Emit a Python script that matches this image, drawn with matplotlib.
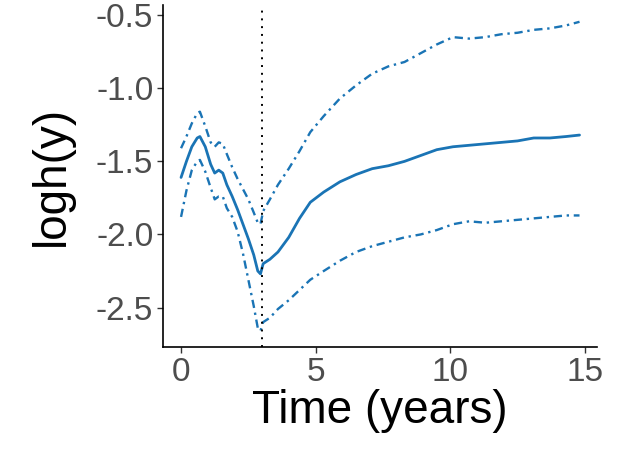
import matplotlib
matplotlib.use("Agg")
import matplotlib.pyplot as plt

plt.rcParams['font.family'] = ['Liberation Sans', 'DejaVu Sans']

time = [0, 0.2, 0.4, 0.6, 0.7, 0.9, 1.1, 1.25, 1.4, 1.55, 1.7, 1.9, 2.1, 2.3, 2.5,
        2.7, 2.85, 2.95, 3.05, 3.3, 3.6, 4.0, 4.4, 4.8, 5.3, 5.9, 6.5, 7.1, 7.7,
        8.3, 8.9, 9.5, 10.1, 10.7, 11.3, 11.9, 12.5, 13.1, 13.7, 14.3, 14.8]

mean = [-1.61, -1.50, -1.40, -1.34, -1.33, -1.40, -1.52, -1.58, -1.56, -1.58,
        -1.66, -1.74, -1.83, -1.93, -2.03, -2.14, -2.25, -2.27, -2.20, -2.17,
        -2.12, -2.02, -1.89, -1.78, -1.71, -1.64, -1.59, -1.55, -1.53, -1.50,
        -1.46, -1.42, -1.40, -1.39, -1.38, -1.37, -1.36, -1.34, -1.34, -1.33, -1.32]

upper = [-1.41, -1.33, -1.24, -1.17, -1.16, -1.26, -1.37, -1.40, -1.37, -1.38,
         -1.45, -1.54, -1.62, -1.69, -1.76, -1.85, -1.92, -1.93, -1.84, -1.76,
         -1.66, -1.55, -1.43, -1.30, -1.19, -1.07, -0.98, -0.90, -0.85, -0.82,
         -0.76, -0.70, -0.65, -0.66, -0.65, -0.63, -0.62, -0.60, -0.59, -0.57, -0.545]

lower = [-1.88, -1.70, -1.56, -1.50, -1.49, -1.57, -1.68, -1.76, -1.74, -1.74,
         -1.82, -1.88, -1.98, -2.13, -2.31, -2.49, -2.64, -2.66, -2.60, -2.57,
         -2.51, -2.45, -2.38, -2.31, -2.25, -2.18, -2.12, -2.08, -2.05, -2.02,
         -2.00, -1.97, -1.93, -1.91, -1.92, -1.91, -1.90, -1.89, -1.88, -1.87, -1.87]

vline_x = 3
xticks = [0, 5, 10, 15]
yticks = [-2.5, -2.0, -1.5, -1.0, -0.5]
ytick_labels = ['-2.5', '-2.0', '-1.5', '-1.0', '-0.5']

color = '#1a74b5'

fig = plt.figure(figsize=(6.26, 4.49), dpi=100)
ax = fig.add_axes([0.2604, 0.2272, 0.6933, 0.7617])

ax.plot(time, mean, color=color, lw=2.0, solid_capstyle='round')
ax.plot(time, upper, color=color, lw=1.7, dashes=(3.5, 2, 1, 2))
ax.plot(time, lower, color=color, lw=1.7, dashes=(3.5, 2, 1, 2))
ax.axvline(vline_x, color='black', lw=1.4, linestyle=(0, (1, 3)))

ax.set_xlim(-0.67, 15.45)
ax.set_ylim(-2.77, -0.43)
ax.set_xticks(xticks)
ax.set_yticks(yticks)
ax.set_yticklabels(ytick_labels)

for s in ['top', 'right']:
    ax.spines[s].set_visible(False)
for s in ['left', 'bottom']:
    ax.spines[s].set_linewidth(1.2)
    ax.spines[s].set_color('black')

ax.tick_params(axis='both', length=4, width=1.0, color='#333333',
               labelsize=24, labelcolor='#4D4D4D', pad=3)

ax.set_xlabel('Time (years)', fontsize=33, color='black', labelpad=1)
ax.set_ylabel('logh(y)', fontsize=33, color='black', labelpad=16)

fig.savefig('out.png', dpi=100)
